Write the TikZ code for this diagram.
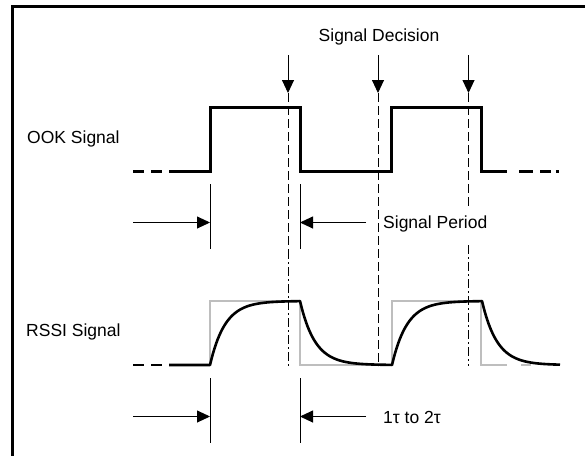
\documentclass[tikz,border=0pt]{standalone}
\usepackage{fontspec}
\setmainfont{Liberation Sans}
\usetikzlibrary{arrows.meta}
\definecolor{lightgray}{RGB}{190,190,190}
\tikzset{
  lbl/.style={inner sep=0pt, anchor=base west, font=\fontsize{17.5}{21}\selectfont},
  ook/.style={line width=3pt, black, line join=miter},
  rssi/.style={line width=2.6pt, black, line join=round},
  ideal/.style={line width=2.6pt, lightgray, line join=miter},
  thin/.style={line width=0.9pt, black},
  dimarrow/.style={thin, -{Triangle[length=13pt,width=12pt]}},
  decarrow/.style={thin, -{Triangle[length=13pt,width=12pt]}},
  decline/.style={line width=0.9pt, black, dash pattern=on 9pt off 4pt},
  decdot/.style={line width=0.9pt, black, dash pattern=on 9pt off 3pt on 2pt off 3pt},
  frameline/.style={line width=2.3pt, black}
}
\begin{document}
\begin{tikzpicture}[x=1pt,y=-1pt]
\useasboundingbox (0,0) rectangle (585,455);
% frame
\draw[frameline] (12.5,456) -- (12.5,6.5) -- (586,6.5);

% labels
\node[lbl, anchor=base] (dec) at (379,41) {Signal Decision};
\node[lbl] (ooklbl) at (27,143) {OOK Signal};
\node[lbl] (per) at (383,228) {Signal Period};
\node[lbl] (rssilbl) at (26,336) {RSSI Signal};
\node[lbl] (tau) at (383,423) {1τ to 2τ};

% decision arrows
\foreach \x/\n in {288/a,378/b,468.5/c} {
  \coordinate (top\n) at (\x,55);
  \coordinate (tip\n) at (\x,93);
  \draw[decarrow] (top\n) -- (tip\n);
}
% dashed decision lines
\draw[decline] (tipa) -- (288,250);
\draw[decdot] (288,250) -- (288,366);
\draw[decline] (tipb) -- (378,366);
\draw[decline] (tipc) -- (468.5,208);
\draw[decdot] (468.5,245) -- (468.5,366);

% OOK signal
\draw[ook] (133,171) -- (144,171);
\draw[ook] (151,171) -- (162,171);
\draw[ook] (169,171) -- (210,171) -- (210,107.5) -- (300,107.5) -- (300,171)
  -- (391.5,171) -- (391.5,107.5) -- (481.5,107.5) -- (481.5,171) -- (507,171);
\draw[ook] (519,171) -- (533,171);
\draw[ook] (540,171) -- (551,171);
\draw[ook] (556,171) -- (559,171);

% RSSI ideal (gray)
\draw[ideal] (210,365) -- (210,301) -- (300,301) -- (300,365) -- (392,365)
  -- (392,301) -- (481,301) -- (481,365) -- (507,365);
\draw[ideal] (521,365) -- (531,365);

% RSSI actual (black)
\draw[rssi] (133,365) -- (144,365);
\draw[rssi] (151,365) -- (162,365);
\draw[rssi] (169,365) -- (210,365)
  -- plot[domain=0:90, samples=60] ({210+\x},{365-64*(1-exp(-\x/15))})
  -- plot[domain=0:92, samples=60] ({300+\x},{301+64*(1-exp(-\x/15))})
  -- plot[domain=0:90, samples=60] ({392+\x},{365-64*(1-exp(-\x/15))})
  -- plot[domain=0:78, samples=60] ({482+\x},{301+64*(1-exp(-\x/15))});

% OOK dimension
\coordinate (t1a) at (210,184); \coordinate (t1b) at (210,249);
\coordinate (t2a) at (300,184); \coordinate (t2b) at (300,249);
\draw[thin] (t1a) -- (t1b);
\draw[thin] (t2a) -- (t2b);
\coordinate (s1) at (133,222.5); \coordinate (e1) at (210,222.5);
\coordinate (s2) at (366,222.5); \coordinate (e2) at (300,222.5);
\draw[dimarrow] (s1) -- (e1);
\draw[dimarrow] (s2) -- (e2);

% RSSI dimension
\coordinate (u1a) at (210,378); \coordinate (u1b) at (210,443);
\coordinate (u2a) at (300,378); \coordinate (u2b) at (300,443);
\draw[thin] (u1a) -- (u1b);
\draw[thin] (u2a) -- (u2b);
\coordinate (s3) at (133,416.5); \coordinate (e3) at (210,416.5);
\coordinate (s4) at (366,416.5); \coordinate (e4) at (300,416.5);
\draw[dimarrow] (s3) -- (e3);
\draw[dimarrow] (s4) -- (e4);
\end{tikzpicture}
\end{document}
